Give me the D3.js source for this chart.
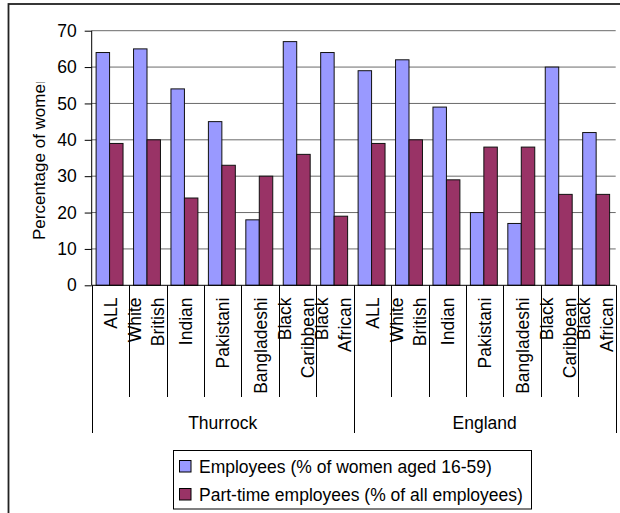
<!DOCTYPE html>
<html>
<head>
<meta charset="utf-8">
<script src="https://cdn.jsdelivr.net/npm/d3@7"></script>
<style>
  html, body { margin: 0; padding: 0; background: #fff; }
  svg { display: block; font-family: "Liberation Sans", Arial, sans-serif; }
</style>
</head>
<body>
<svg id="chart" width="620" height="513"></svg>
<script>
// Labour-market figures for women, by ethnic group
const groups = ["Thurrock", "England"];
const categories = ["ALL", "White British", "Indian", "Pakistani", "Bangladeshi", "Black Caribbean", "Black African"];
const thurrockEmployees = [64, 65, 54, 45, 18, 67, 64];
const thurrockPartTime  = [39, 40, 24, 33, 30, 36, 19];
const englandEmployees  = [59, 62, 49, 20, 17, 60, 42];
const englandPartTime   = [39, 40, 29, 38, 38, 25, 25];
const seriesNames = ["Employees (% of women aged 16-59)", "Part-time employees (% of all employees)"];
const yTicks = [0, 10, 20, 30, 40, 50, 60, 70];
const yTitle = "Percentage of women";

const colors = ["#9999FF", "#993366"];
const FONT = 17.5;

// flatten into one row per (group, category)
const employeesByGroup = [thurrockEmployees, englandEmployees];
const partTimeByGroup = [thurrockPartTime, englandPartTime];
const rows = [];
groups.forEach((g, gi) => {
  categories.forEach((c, ci) => {
    rows.push({ id: g + "|" + c, group: g, category: c,
      values: [employeesByGroup[gi][ci], partTimeByGroup[gi][ci]] });
  });
});

const svg = d3.select("#chart");

// outer chart frame
svg.append("rect")
  .attr("x", 8.5).attr("y", 4)
  .attr("width", 700).attr("height", 600)
  .attr("fill", "none").attr("stroke", "#222").attr("stroke-width", 1.8);

const plot = { left: 91.7, right: 615.7, top: 30.7, bottom: 285.3 };

const x = d3.scaleBand()
  .domain(rows.map(d => d.id))
  .range([plot.left, plot.right])
  .padding(0);

const xInner = d3.scaleBand()
  .domain([0, 1])
  .range([0, x.bandwidth()])
  .paddingInner(0)
  .paddingOuter(0.39)
  .align(0.42);

const y = d3.scaleLinear()
  .domain([0, 70])
  .range([plot.bottom, plot.top]);

// horizontal gridlines
svg.append("g")
  .selectAll("line")
  .data(yTicks.filter(t => t > 0))
  .join("line")
  .attr("x1", plot.left).attr("x2", plot.right)
  .attr("y1", d => y(d)).attr("y2", d => y(d))
  .attr("stroke", "#6a6a6a").attr("stroke-width", 1);

// bars
const barGroups = svg.append("g")
  .selectAll("g")
  .data(rows)
  .join("g")
  .attr("transform", d => `translate(${x(d.id)},0)`);

barGroups.selectAll("rect")
  .data(d => d.values.map((v, i) => ({ v, i })))
  .join("rect")
  .attr("x", d => xInner(d.i))
  .attr("width", xInner.bandwidth())
  .attr("y", d => y(d.v))
  .attr("height", d => y(0) - y(d.v))
  .attr("fill", d => colors[d.i])
  .attr("stroke", "#111")
  .attr("stroke-width", 1);

// y axis
const yAxis = svg.append("g")
  .attr("transform", `translate(${plot.left},0)`)
  .call(d3.axisLeft(y).tickValues(yTicks).tickSize(7).tickPadding(8).tickFormat(d3.format("d")));
yAxis.select(".domain").attr("stroke", "#000").attr("d", `M0,${plot.top}V${plot.bottom}`);
yAxis.selectAll(".tick line").attr("stroke", "#000");
yAxis.selectAll(".tick text")
  .attr("font-size", FONT)
  .attr("font-family", "Liberation Sans, Arial, sans-serif")
  .attr("fill", "#000");

// x axis baseline
svg.append("line")
  .attr("x1", plot.left).attr("x2", plot.right)
  .attr("y1", y(0)).attr("y2", y(0))
  .attr("stroke", "#000").attr("stroke-width", 1);

// category separators (short) and group separators (long)
const catBottom = 397;
const groupBottom = 433;
const boundaries = d3.range(rows.length + 1).map(i => ({
  x: i < rows.length ? x(rows[i].id) : plot.right,
  isGroup: i % categories.length === 0
}));
svg.append("g")
  .selectAll("line")
  .data(boundaries)
  .join("line")
  .attr("x1", d => Math.round(d.x) + 0.5).attr("x2", d => Math.round(d.x) + 0.5)
  .attr("y1", y(0)).attr("y2", d => d.isGroup ? groupBottom : catBottom)
  .attr("stroke", "#000").attr("stroke-width", 1);

// rotated category labels
const labelTop = 297.5;
const catLabels = svg.append("g")
  .selectAll("text")
  .data(rows)
  .join("text")
  .attr("transform", d => `translate(${x(d.id) + x.bandwidth() / 2},${labelTop}) rotate(-90)`)
  .attr("text-anchor", "end")
  .attr("font-size", FONT)
  .attr("fill", "#000");

catLabels.each(function (d) {
  const words = d.category.split(" ");
  const t = d3.select(this);
  if (words.length === 1) {
    t.append("tspan").attr("x", 0).attr("y", 6.4).text(words[0]);
  } else {
    t.append("tspan").attr("x", 0).attr("y", -7).text(words[0]);
    t.append("tspan").attr("x", 0).attr("y", 16.5).text(words[1]);
  }
});

// group labels
svg.append("g")
  .selectAll("text")
  .data(groups)
  .join("text")
  .attr("x", (g, gi) => {
    const first = x(rows[gi * categories.length].id);
    const lastRow = rows[(gi + 1) * categories.length - 1];
    const last = x(lastRow.id) + x.bandwidth();
    return (first + last) / 2;
  })
  .attr("y", 429)
  .attr("text-anchor", "middle")
  .attr("font-size", FONT)
  .attr("fill", "#000")
  .text(g => g);

// y axis title, clipped by its text box
svg.append("defs").append("clipPath").attr("id", "ytitle-clip")
  .append("rect").attr("x", 0).attr("y", 82.5).attr("width", 80).attr("height", 220);
svg.append("g")
  .attr("clip-path", "url(#ytitle-clip)")
  .append("text")
  .attr("transform", "translate(44.5,240) rotate(-90)")
  .attr("text-anchor", "start")
  .attr("font-size", 17)
  .attr("fill", "#000")
  .text(yTitle);

// legend
const legend = svg.append("g");
legend.append("rect")
  .attr("x", 173.5).attr("y", 450.5)
  .attr("width", 358).attr("height", 58.5)
  .attr("fill", "#fff").attr("stroke", "#000").attr("stroke-width", 1);

const legendItems = legend.selectAll("g")
  .data(seriesNames)
  .join("g")
  .attr("transform", (d, i) => `translate(0,${i * 28})`);

legendItems.append("rect")
  .attr("x", 179.5).attr("y", 460.5)
  .attr("width", 11.5).attr("height", 11.5)
  .attr("fill", (d, i) => colors[i])
  .attr("stroke", "#000").attr("stroke-width", 1);

legendItems.append("text")
  .attr("x", 199)
  .attr("y", 473)
  .attr("font-size", FONT)
  .attr("fill", "#000")
  .text(d => d);
</script>
</body>
</html>
